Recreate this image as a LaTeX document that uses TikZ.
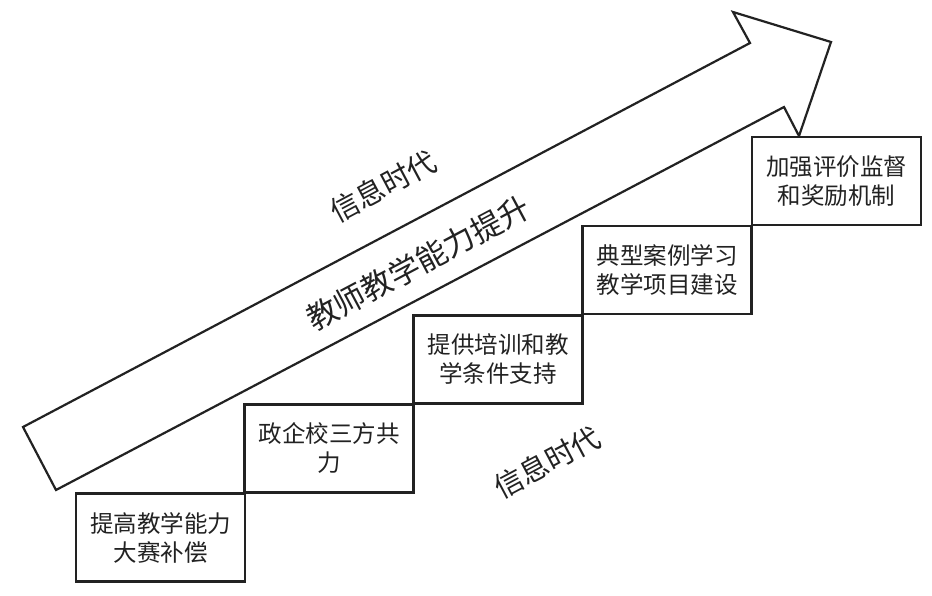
\documentclass[tikz,border=0pt]{standalone}
\usepackage{fontspec}
\newfontfamily\cjk{Noto Sans CJK SC}
\definecolor{ink}{HTML}{222222}
\tikzset{
  stepbox/.style={draw=ink, line width=2.2pt, fill=white, minimum width=169pt, minimum height=88pt,
    inner sep=0pt, align=center, text=ink, font=\cjk\fontsize{23.5}{29}\selectfont},
  bigtext/.style={text=ink, inner sep=0pt, font=\cjk\fontsize{29}{34}\selectfont, rotate=28},
  arrowline/.style={draw=ink, line width=2.2pt, line join=miter, fill=white}
}
\begin{document}
\begin{tikzpicture}[x=1pt,y=-1pt]
\useasboundingbox (0,0) rectangle (932,595);
\fill[white] (0,0) rectangle (932,595);
% big arrow
\draw[arrowline] (23,427) -- (750,43) -- (733,12) -- (831,42) -- (799,136) -- (784,107) -- (56,490) -- cycle;
% step boxes
\node[stepbox] (b1) at (160.5,537.5) {提高教学能力\\大赛补偿};
\node[stepbox] (b2) at (329,448.5) {政企校三方共\\力};
\node[stepbox] (b3) at (498,359.5) {提供培训和教\\学条件支持};
\node[stepbox] (b4) at (667,270) {典型案例学习\\教学项目建设};
\node[stepbox] (b5) at (836.5,181) {加强评价监督\\和奖励机制};
% texts
\node[bigtext] (t1) at (383,186) {信息时代};
\node[bigtext, font=\cjk\fontsize{31}{36}\selectfont] (t2) at (418,263) {教师教学能力提升};
\node[bigtext] (t3) at (547,462) {信息时代};
\end{tikzpicture}
\end{document}
